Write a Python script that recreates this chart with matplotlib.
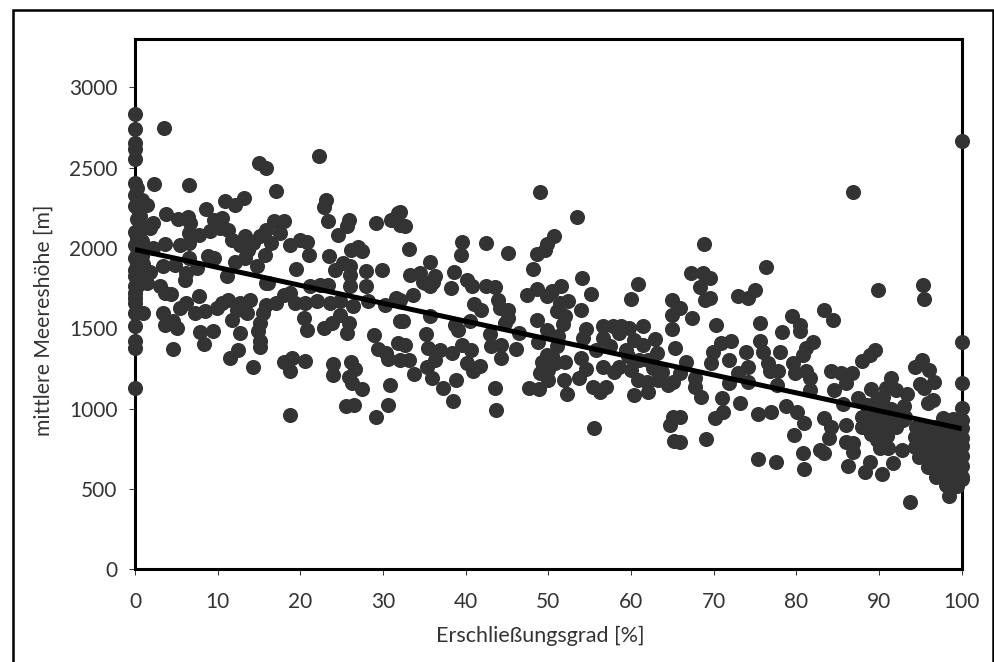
import numpy as np
import matplotlib
matplotlib.use('Agg')
import matplotlib.pyplot as plt
from matplotlib.patches import Rectangle

plt.rcParams['font.family'] = ['Lato', 'DejaVu Sans']

# linke Spalte, Erschliessungsgrad ~ 0
x_spalte = [0, 0, 0, 0, 0, 0, 0.2, 0, 0.4, 0, 0.5, 0.2, 0.6, 0, 0.3, 0, 0.5, 0, 0.3, 0, 0,
            0, 0, 0, 1.0, 0, 0, 0.4, 1.4, 0, 0, 0, 0, 0.4, 0.2, 1.0, 1.4, 0.8, 0.2,
            0.8, 0.8, 1.0, 1.0, 0.5, 0.6, 0.8, 1.8]
y_spalte = [2836, 2738, 2655, 2613, 2551, 2405, 2374, 2330, 2300, 2260, 2220, 2180, 2140, 2100, 2060, 2020, 1980, 1940, 1900, 1860, 1127,
            1376, 1418, 1511, 1595, 1595, 1657, 1771, 1782, 1823, 1719, 1760, 1690, 1880, 1960, 2124, 2270, 2040, 2080,
            2000, 1950, 1900, 1850, 1800, 2200, 2300, 1850]

x_links = [3.5, 22.3, 15.0, 15.9, 17.0, 6.5, 2.3, 10.9, 12.1, 13.2, 23.1, 22.9, 8.6, 3.8, 5.2, 6.4,
           23.3, 25.9, 25.6, 24.6, 29.1, 31.0, 31.8, 32.0, 10.5, 9.5, 10.3, 9.1, 11.3, 6.6, 7.7, 6.5,
           11.7, 13.3, 12.7, 14.3, 15.1, 15.9, 16.8, 18.0, 17.5, 16.5, 15.7, 18.7, 19.9, 20.8, 21.0,
           23.5, 26.1, 27.0, 27.5, 24.2, 25.2, 26.0, 26.0, 27.9, 29.9, 19.5, 2.2, 3.6, 5.4, 6.5, 2.2, 1.8,
           6.5, 7.5, 8.8, 9.5, 3.4, 4.8, 6.2, 12.1, 13.3, 14.7, 11.1, 13.7, 15.9,
           3.0, 3.6, 4.4, 3.4, 3.6, 4.6, 5.1, 4.6, 7.7, 6.2, 5.4, 7.3, 8.5, 9.9, 10.5, 11.3, 12.7, 13.9,
           12.3, 13.5, 11.7, 15.1, 14.9, 15.5, 15.9, 12.7, 9.4, 7.9, 8.3, 15.1, 15.1, 12.4, 11.5, 14.3,
           18.0, 19.0, 20.6, 18.7, 18.8, 23.9, 24.0, 26.1, 26.6, 25.9, 26.2, 27.4, 30.9, 25.5, 26.5, 30.6,
           29.2, 28.9, 29.4, 30.4, 30.6, 31.8, 32.0, 20.8, 20.4, 22.9, 23.8, 24.8, 25.9, 25.6, 26.4, 28.2,
           30.2, 31.6, 18.0, 18.7, 17.1, 19.4, 20.6, 22.0, 23.6, 24.8, 28.0, 26.0, 23.4, 22.4, 21.2, 16.1, 6.1]
y_links = [2744, 2570, 2526, 2499, 2355, 2389, 2395, 2291, 2270, 2312, 2301, 2255, 2243, 2210, 2181, 2193,
           2166, 2172, 2135, 2083, 2156, 2172, 2218, 2145, 2187, 2176, 2124, 2104, 2114, 2156, 2083, 2093,
           2052, 2072, 2020, 2031, 2072, 2114, 2166, 2166, 2093, 2031, 1958, 2020, 2052, 2035, 1958,
           1952, 1989, 2004, 1979, 1864, 1906, 1885, 1833, 1854, 1864, 1869, 2000, 2027, 2016, 2031, 2156, 2124,
           1937, 1875, 1948, 1937, 1889, 1895, 1844, 1910, 1937, 1885, 1823, 1989, 1782,
           1761, 1719, 1715, 1595, 1522, 1543, 1501, 1372, 1699, 1657, 1626, 1595, 1605, 1626, 1657, 1678, 1657, 1678,
           1615, 1595, 1549, 1532, 1484, 1595, 1647, 1470, 1486, 1474, 1403, 1418, 1382, 1366, 1314, 1258,
           1293, 1314, 1297, 1231, 960, 1278, 1210, 1287, 1245, 1195, 1158, 1122, 1147, 1016, 1023, 1023,
           946, 1459, 1370, 1345, 1307, 1407, 1543, 1491, 1563, 1501, 1532, 1584, 1532, 1470, 1636, 1667,
           1647, 1688, 1709, 1719, 1657, 1657, 1657, 1667, 1657, 1667, 1761, 1761, 1771, 1771, 1761, 1782, 1803]

x_mitte = [49.05, 53.5, 32.0, 32.6, 33.1, 50.7, 49.8, 49.6, 48.6, 48.2, 39.5, 39.4, 42.5, 45.1, 35.7, 33.3, 34.5,
           36.3, 35.7, 35.1, 38.6, 38.2, 40.1, 40.8, 42.4, 43.6, 54.1, 55.1, 54.0, 60.9, 60.0, 47.4, 48.6, 49.8,
           50.4, 51.5, 52.4, 51.4, 51.0, 52.0, 51.8, 48.6, 49.8, 51.2, 48.8, 51.0, 41.0, 41.9, 43.9, 44.1, 45.1,
           45.1, 44.7, 40.5, 39.1, 38.7, 42.9, 43.1, 44.3, 46.4, 46.1, 44.3, 40.7, 39.5, 38.3, 36.9, 35.5, 35.2,
           35.7, 32.6, 33.1, 32.0, 32.4, 32.0, 33.6, 36.3, 35.3, 33.8, 35.9, 37.3, 38.8, 38.5, 40.1, 40.9, 41.7,
           43.5, 43.7, 47.7, 48.9, 50.0, 49.0, 49.2, 49.8, 50.8, 52.0, 54.0, 54.6, 53.7, 51.9, 52.3, 55.4, 56.2,
           57.0, 56.6, 55.5, 54.6, 54.2, 56.6, 57.8, 58.8, 59.8, 61.5, 56.6, 58.6, 60.3, 62.9, 61.5, 59.4, 63.1,
           57.4, 55.8, 58.6, 60.0, 60.9, 60.4, 62.0, 61.9, 63.3, 64.5, 62.7, 65.1, 65.3, 64.9, 64.9, 65.0, 64.7,
           65.1, 65.2, 34.8, 36.0, 50.0, 49.3, 50.4, 59.6, 61.0, 62.0, 58.0, 63.8]
y_mitte = [2348, 2194, 2223, 2135, 1994, 2073, 2027, 1990, 1959, 1869, 2036, 1954, 2033, 1969, 1913, 1830, 1844,
           1823, 1761, 1782, 1848, 1753, 1798, 1761, 1761, 1755, 1813, 1715, 1615, 1778, 1682, 1705, 1746, 1703,
           1730, 1763, 1667, 1657, 1605, 1574, 1528, 1553, 1491, 1449, 1412, 1387, 1653, 1615, 1678, 1626, 1615,
           1563, 1532, 1543, 1491, 1522, 1466, 1391, 1397, 1470, 1372, 1314, 1366, 1397, 1349, 1366, 1380, 1463,
           1574, 1397, 1303, 1303, 1543, 1678, 1709, 1303, 1262, 1216, 1189, 1127, 1179, 1045, 1283, 1231, 1268,
           1131, 991, 1127, 1122, 1179, 1220, 1293, 1335, 1283, 1287, 1314, 1247, 1189, 1179, 1089, 1137, 1106,
           1137, 1262, 881, 1495, 1439, 1511, 1511, 1511, 1501, 1511, 1439, 1470, 1428, 1434, 1397, 1366, 1345,
           1387, 1366, 1262, 1241, 1179, 1085, 1106, 1168, 1179, 1147, 1251, 1168, 1376, 1495, 1584, 1678, 898,
           950, 798, 1790, 1790, 1240, 1260, 1330, 1330, 1300, 1300, 1230, 1230]

x_rechts = [68.8, 86.8, 76.3, 67.2, 68.7, 69.6, 68.4, 68.9, 69.5, 65.9, 67.4, 70.3, 73.0, 74.2, 75.0, 89.9, 95.3,
            95.4, 79.5, 80.4, 80.5, 83.4, 84.4, 75.6, 78.3, 100, 82.0, 81.2, 80.8, 89.5, 88.9, 87.9, 95.2, 94.4,
            96.1, 96.6, 95.0, 95.5, 96.5, 95.9, 100, 100, 75.6, 76.0, 78.0, 72.1, 70.9, 69.9, 73.9, 71.9, 69.7,
            74.2, 73.0, 76.6, 77.8, 76.8, 79.6, 79.8, 81.2, 81.6, 81.6, 77.6, 74.2, 71.9, 84.2, 85.4, 86.7, 86.0,
            84.5, 89.0, 91.5, 90.9, 92.1, 93.4, 93.0, 90.5, 89.7, 87.5, 85.6, 66.7, 67.7, 68.5, 67.7, 65.9, 71.0,
            71.1, 70.1, 73.2, 75.4, 76.9, 78.7, 80.1, 80.9, 79.7, 83.4, 84.2, 84.0, 82.8, 83.4, 80.8, 80.9, 77.5,
            75.3, 69.1, 65.9, 65.9, 86.3, 86.0, 86.0, 86.9, 86.9, 88.3, 88.9, 90.3, 91.7, 92.8, 90.1, 91.1, 93.8,
            98.5, 100]
y_rechts = [2025, 2348, 1884, 1844, 1844, 1811, 1757, 1678, 1688, 1626, 1561, 1522, 1703, 1688, 1736, 1736, 1771,
            1684, 1574, 1522, 1480, 1615, 1549, 1532, 1476, 1416, 1412, 1376, 1335, 1366, 1335, 1297, 1303, 1262,
            1241, 1168, 1152, 1127, 1054, 1033, 1162, 1002, 1418, 1355, 1355, 1418, 1407, 1355, 1351, 1303, 1283,
            1262, 1220, 1283, 1231, 1231, 1283, 1220, 1231, 1189, 1116, 1147, 1168, 1158, 1235, 1220, 1220, 1158,
            1116, 1120, 1189, 1127, 1116, 1091, 1016, 1075, 1054, 1064, 1027, 1293, 1137, 1075, 1189, 1220, 1064,
            981, 939, 1037, 966, 981, 1018, 981, 908, 835, 939, 887, 815, 742, 721, 721, 627, 665,
            686, 808, 950, 794, 642, 898, 794, 783, 731, 607, 669, 592, 659, 742, 752, 752, 419,
            455, 2665]

# dichter Bereich unten rechts
x_dicht = [87.9, 89.1, 87.9, 89.3, 90.5, 91.7, 92.9, 90.5, 89.7, 88.5, 90.9, 90.1, 92.1,
           97.7, 98.95, 94.5, 95.7, 96.9, 98.1, 99.4, 100, 100,
           94.3, 95.7, 96.9, 98.1, 99.4, 100, 94.4, 95.7, 96.9, 98.1, 99.4, 100,
           94.8, 95.7, 96.9, 98.1, 99.4, 100, 95.9, 96.9, 98.1, 99.4, 100,
           96.9, 98.1, 99.4, 100, 98.1, 99.4, 100, 98.5,
           88.5, 89.3, 90.5, 91.5, 92.5, 93.2, 89.0, 90.0, 91.0]
y_dicht = [950, 971, 887, 887, 950, 929, 929, 846, 804, 908, 887, 908, 887,
           939, 935, 887, 880, 887, 885, 880, 877, 930,
           825, 825, 825, 825, 825, 815, 763, 763, 763, 763, 763, 770,
           700, 700, 700, 700, 700, 705, 638, 638, 638, 638, 640,
           575, 575, 575, 575, 525, 520, 560, 540,
           1020, 1000, 1020, 1000, 970, 950, 840, 850, 830]

# Trendlinie
x_trend = [0, 100]
y_trend = [1990, 875]

x_ticks = list(range(0, 101, 10))
y_ticks = list(range(0, 3001, 500))

x_all = np.array(x_spalte + x_links + x_mitte + x_rechts + x_dicht)
y_all = np.array(y_spalte + y_links + y_mitte + y_rechts + y_dicht)

fig = plt.figure(figsize=(9.95, 6.62), dpi=100)
ax = fig.add_axes([135 / 995, 1 - 569.3 / 662, (961.7 - 135) / 995, (569.3 - 39) / 662])

# aeusserer Rahmen, unten offen
fig.add_artist(Rectangle((12.5 / 995, -0.1), (993.5 - 12.5) / 995, 1.1 - 9.5 / 662, transform=fig.transFigure,
                         facecolor='none', edgecolor='black', linewidth=1.8))

ax.scatter(x_all, y_all, s=118, color='#333333', linewidths=0, clip_on=False, zorder=3)
ax.plot(x_trend, y_trend, color='black', linewidth=3.6, solid_capstyle='butt', zorder=4)

ax.set_xlim(0, 100)
ax.set_ylim(0, 3300)
ax.set_xticks(x_ticks)
ax.set_yticks(y_ticks)
ax.tick_params(length=4.5, width=0.7, color='#333333', labelcolor='#333333', labelsize=15)
ax.tick_params(axis='x', pad=12)
ax.tick_params(axis='y', pad=8)

for side in ax.spines.values():
    side.set_linewidth(2.2)
    side.set_color('black')
    side.set_zorder(2)

ax.set_xlabel('Erschließungsgrad [%]', fontsize=15.5, color='#333333', va='center')
ax.set_ylabel('mittlere Meereshöhe [m]', fontsize=15.2, color='#333333', va='center')
ax.xaxis.set_label_coords(0.49, -0.126)
ax.yaxis.set_label_coords(-0.111, 0.47)

fig.savefig('out.png', dpi=100)
